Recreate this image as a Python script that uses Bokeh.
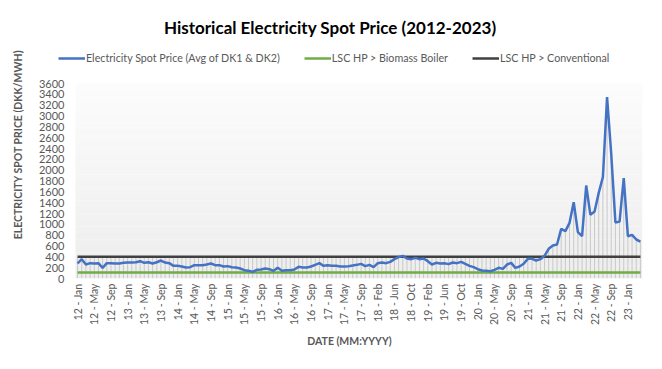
import math
import numpy as np
from bokeh.plotting import figure
from bokeh.models import (ColumnDataSource, FixedTicker, Legend, LegendItem,
                          Range1d, BoxAnnotation, Label)
from bokeh.embed import file_html
from bokeh.resources import INLINE

# ---------------- data ----------------
tick_labels = ["12 - Jan", "12 - May", "12 - Sep", "13 - Jan", "13 - May", "13 - Sep",
               "14 - Jan", "14 - May", "14 - Sep", "15 - Jan", "15 - May", "15 - Sep",
               "16 - Jan", "16 - May", "16 - Sep", "17 - Jan", "17 - May", "17 - Sep",
               "18 - Feb", "18 - Jun", "18 - Oct", "19 - Feb", "19 - Jun", "19 - Oct",
               "20 - Jan", "20 - May", "20 - Sep", "21 - Jan", "21 - May", "21 - Sep",
               "22 - Jan", "22 - May", "22 - Sep", "23 - Jan"]
tick_every = 4

spot_price = [
    277, 357, 258, 283, 277, 283, 197, 283, 283, 277, 277, 290,   # 2012
    295, 295, 300, 320, 290, 300, 277, 300, 332, 295, 283, 234,   # 2013
    234, 221, 203, 209, 246, 246, 246, 258, 277, 246, 246, 221,   # 2014
    228, 209, 203, 185, 154, 142, 123, 160, 166, 185, 172, 142,   # 2015
    197, 142, 154, 154, 166, 215, 203, 203, 221, 252, 283, 234,   # 2016
    246, 234, 234, 221, 221, 228, 240, 252, 270, 228, 252, 209,   # 2017
    283, 295, 283, 307, 357, 394, 418, 369, 357, 381, 357, 369,   # 2018
    320, 258, 290, 277, 280, 265, 295, 283, 308, 271, 234, 209,   # 2019
    172, 148, 142, 135, 160, 197, 178, 258, 289, 197, 221, 271,   # 2020
    363, 363, 332, 357, 419, 548, 609, 628, 917, 874, 1028, 1409,  # 2021
    855, 781, 1717, 1175, 1237, 1581, 1871, 3348, 2300, 1035, 1050, 1852,  # 2022
    781, 806, 720, 683,                                              # 2023
]
biomass_boiler = 110
conventional = 400

series_names = ["Electricity Spot Price (Avg of DK1 & DK2)",
                "LSC HP > Biomass Boiler",
                "LSC HP > Conventional"]
series_colors = ["#4472C4", "#70AD47", "#404040"]

title_text = "Historical  Electricity  Spot  Price  (2012-2023)"
y_max = 3600
y_step = 200

# ---------------- layout (pixels) ----------------
FONT = "Lato"
GREY = "#595959"
W, H = 662, 369
AREA_L, AREA_R = 75, 642      # plotting area (categories) in px
AREA_T, AREA_B = 83, 278      # 3600 .. 0 in px
FRAME_L, FRAME_T = 56, 10     # frame extended so header items fit inside
TITLE_CX, TITLE_CY = 338, 27
LEG_L, LEG_B = 58, 64

n = len(spot_price)
px_per_x = (AREA_R - AREA_L) / n
px_per_y = (AREA_B - AREA_T) / y_max
x_start = -0.5 - (AREA_L - FRAME_L) / px_per_x
x_end = n - 0.5
y_top = (AREA_B - FRAME_T) / px_per_y

src = ColumnDataSource(dict(
    x=np.arange(n),
    price=spot_price,
    bio=[biomass_boiler] * n,
    conv=[conventional] * n,
    top=np.maximum(np.maximum(spot_price, conventional), biomass_boiler),
    zero=[0] * n,
))

p = figure(width=W, height=H, output_backend="svg", toolbar_location=None,
           x_range=Range1d(x_start, x_end), y_range=Range1d(0, y_top),
           min_border_left=FRAME_L, min_border_right=W - AREA_R,
           min_border_top=FRAME_T, min_border_bottom=H - AREA_B)

p.background_fill_color = "white"
p.border_fill_color = "white"
p.outline_line_color = None
p.grid.grid_line_color = None

# soft vertical gradient in the plotting area
bands = 30
for k in range(bands):
    t = k / (bands - 1)
    c = int(round(237 + (252 - 237) * t))
    p.add_layout(BoxAnnotation(left=-0.5, right=n - 0.5,
                               bottom=y_max * k / bands, top=y_max * (k + 1) / bands,
                               fill_color="#%02x%02x%02x" % (c, c, c), fill_alpha=1.0,
                               line_color=None, level="underlay"))

# drop lines
p.segment(x0="x", y0="zero", x1="x", y1="top", source=src,
          line_color="#c8c8c8", line_width=1)

r_conv = p.line("x", "conv", source=src, line_color=series_colors[2], line_width=2.5)
r_bio = p.line("x", "bio", source=src, line_color=series_colors[1], line_width=2.5)
r_price = p.line("x", "price", source=src, line_color=series_colors[0], line_width=2.5)

# axes
xa = p.xaxis[0]
xa.ticker = FixedTicker(ticks=list(range(0, n, tick_every))[:len(tick_labels)])
xa.major_label_overrides = {i * tick_every: lab for i, lab in enumerate(tick_labels)}
xa.major_label_orientation = math.pi / 2
xa.major_tick_line_color = None
xa.major_tick_out = 0
xa.major_tick_in = 0
xa.minor_tick_line_color = None
xa.minor_tick_out = 0
xa.minor_tick_in = 0
xa.axis_line_color = None
xa.major_label_text_font = FONT
xa.major_label_text_font_size = "10.5px"
xa.major_label_text_color = GREY
xa.major_label_standoff = 5
xa.axis_label = "DATE (MM:YYYY)"
xa.axis_label_text_font = FONT
xa.axis_label_text_font_size = "10.5px"
xa.axis_label_text_font_style = "bold"
xa.axis_label_text_color = GREY
xa.axis_label_standoff = 7

ya = p.yaxis[0]
ya.ticker = FixedTicker(ticks=list(range(0, y_max + 1, y_step)))
ya.major_tick_line_color = None
ya.major_tick_out = 0
ya.major_tick_in = 0
ya.minor_tick_line_color = None
ya.minor_tick_out = 0
ya.minor_tick_in = 0
ya.axis_line_color = None
ya.major_label_text_font = FONT
ya.major_label_text_font_size = "11px"
ya.major_label_text_color = GREY
ya.major_label_standoff = -(64 - FRAME_L)
ya.axis_label = "ELECTRICITY SPOT PRICE (DKK/MWH)"
ya.axis_label_text_font = FONT
ya.axis_label_text_font_size = "10.5px"
ya.axis_label_text_font_style = "bold"
ya.axis_label_text_color = GREY
ya.axis_label_standoff = 12

# title (inside the extended frame)
p.add_layout(Label(x=-0.5 + (TITLE_CX - AREA_L) / px_per_x,
                   y=(AREA_B - TITLE_CY) / px_per_y,
                   text=title_text, text_align="center", text_baseline="middle",
                   text_font=FONT, text_font_size="17px", text_font_style="bold",
                   text_color="black"))

legend = Legend(items=[LegendItem(label=series_names[0], renderers=[r_price]),
                       LegendItem(label=series_names[1], renderers=[r_bio]),
                       LegendItem(label=series_names[2], renderers=[r_conv])],
                orientation="horizontal",
                location=(LEG_L - FRAME_L, AREA_B - LEG_B),
                label_text_font=FONT, label_text_font_size="10.7px",
                label_text_color=GREY, glyph_width=27, glyph_height=12,
                label_standoff=1, spacing=24, padding=0, margin=0,
                border_line_color=None, background_fill_alpha=0)
p.add_layout(legend)

open("out.html", "w").write(file_html(p, INLINE))
